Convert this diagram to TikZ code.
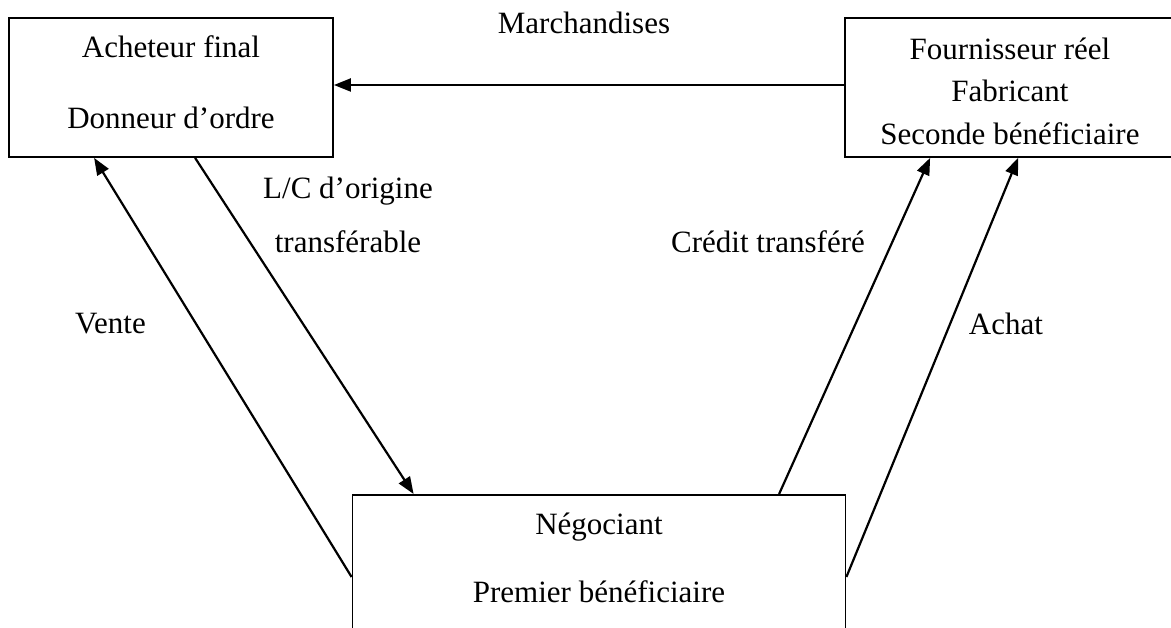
\documentclass[tikz,border=0pt]{standalone}
\usepackage{fontspec}
\setmainfont{Liberation Serif}
\usepackage{tikz}
\usetikzlibrary{arrows.meta,positioning,calc}
\tikzset{
  block/.style={draw,line width=1.8pt,inner sep=0pt,align=center,minimum height=139pt},
  flow/.style={-{Triangle[length=17pt,width=13pt]},line width=2.2pt},
  lbl/.style={inner sep=0pt,align=center}
}

\begin{document}
\begin{tikzpicture}[x=1pt,y=-1pt,font=\fontsize{31}{42.5}\selectfont]
  \useasboundingbox (0,0) rectangle (1171,628);
  \clip (0,0) rectangle (1171,628);
  % the three parties
  \node[block,minimum width=324pt] (acheteur) at (171,87.5) {Acheteur final\\[28pt]Donneur d'ordre\rule[-11pt]{0pt}{11pt}};
  \node[block,minimum width=330pt] (fournisseur) at (1010,87.5) {\rule{0pt}{29pt}Fournisseur réel\\Fabricant\\Seconde bénéficiaire};
  \node[block,minimum width=493pt,minimum height=200pt,anchor=north] (negociant) at (599,494) {};
  \node[lbl] (negociant-txt) at (599,558) {Négociant\\[25pt]Premier bénéficiaire};
  % flows
  \draw[flow] ($(fournisseur.west)+(0,-2.5)$) -- ($(acheteur.east)+(0,-2.5)$);
  \node[lbl] (marchandises) at (584,23) {Marchandises};
  \draw[flow] ($(acheteur.south west)+(187,0)$) -- ($(negociant.north west)+(62,0)$);
  \draw[flow] ($(negociant.north west)+(0,83)$) -- ($(acheteur.south west)+(86,0)$);
  \draw[flow] ($(negociant.north west)+(427.5,0)$) -- ($(fournisseur.south west)+(86,0)$);
  \draw[flow] ($(negociant.north east)+(0,83)$) -- ($(fournisseur.south west)+(174,0)$);
  \node[lbl] (lc) at (348,215) {L/C d'origine\\[11.5pt]transférable};
  \node[lbl] (vente) at (110.5,324) {Vente};
  \node[lbl] (credit) at (768,242) {Crédit transféré};
  \node[lbl] (achat) at (1006,324) {Achat};
\end{tikzpicture}
\end{document}
